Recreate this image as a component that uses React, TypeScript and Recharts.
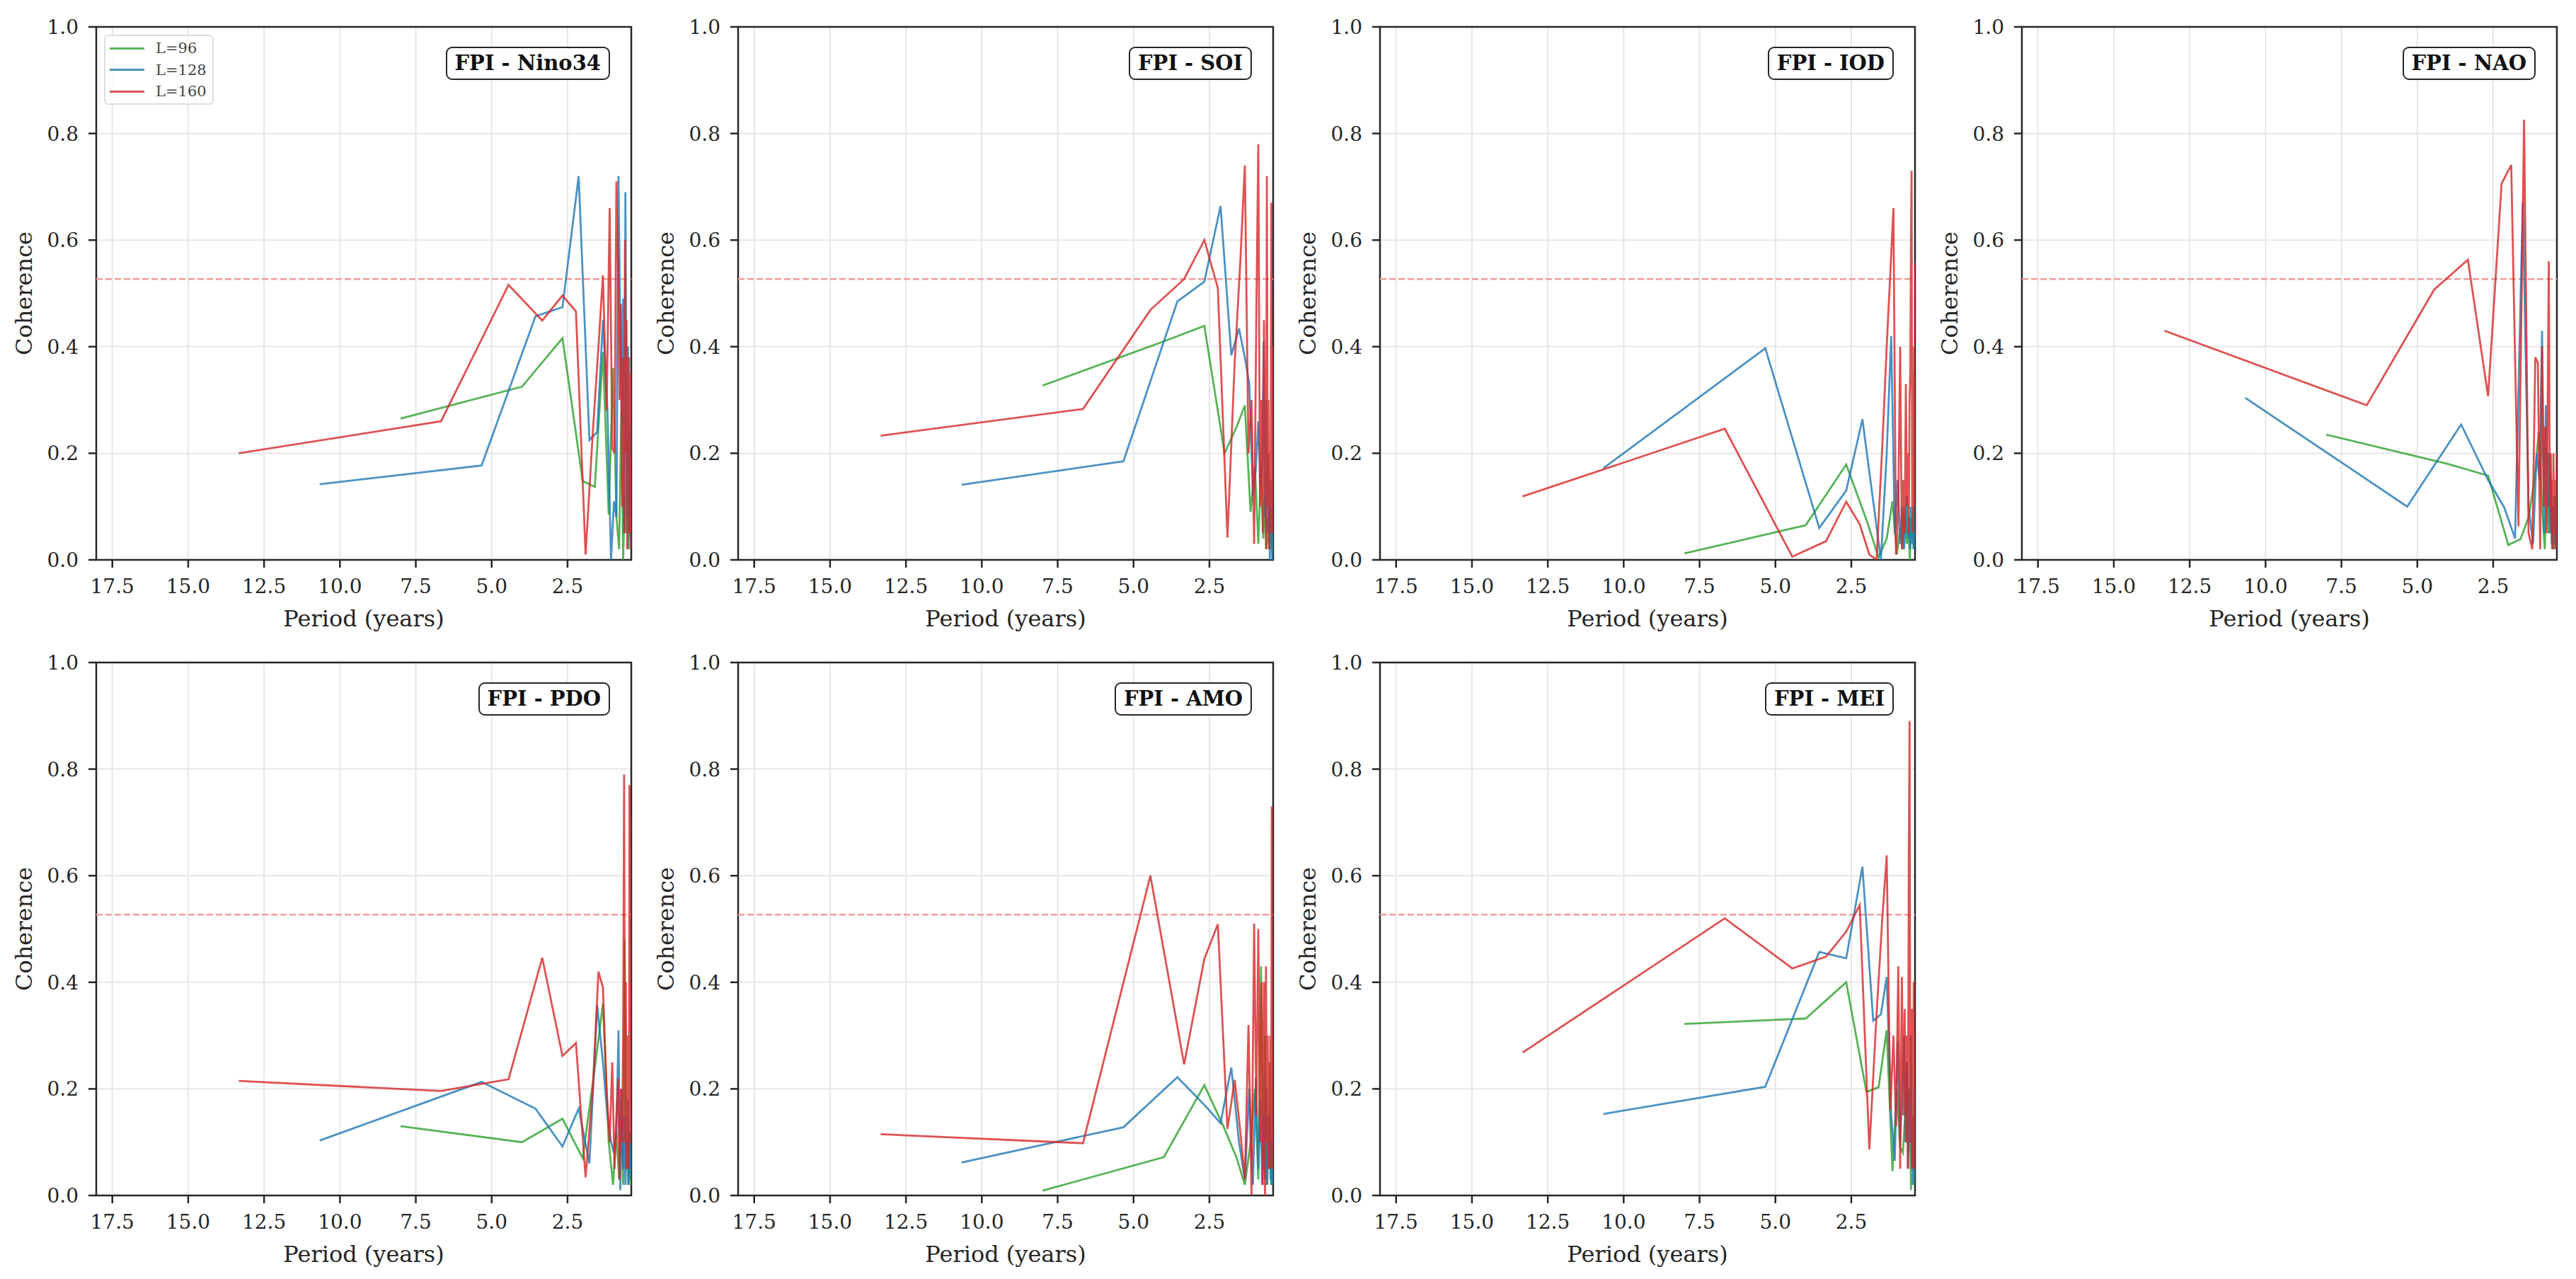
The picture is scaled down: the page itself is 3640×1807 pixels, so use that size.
import React from 'react';
import {
  LineChart,
  Line,
  XAxis,
  YAxis,
  CartesianGrid,
  ReferenceLine,
  ReferenceArea,
} from 'recharts';

// Periods (years) of the spectral estimates for each window length
const PERIODS_96 = [8.0, 4.0, 2.667, 2.0, 1.6, 1.333, 1.143, 1.0, 0.889, 0.8, 0.727, 0.667, 0.615, 0.571, 0.533, 0.5, 0.471, 0.444, 0.421, 0.4, 0.381];
const PERIODS_128 = [10.667, 5.333, 3.556, 2.667, 2.133, 1.778, 1.524, 1.333, 1.185, 1.067, 0.97, 0.889, 0.821, 0.762, 0.711, 0.667, 0.627, 0.593, 0.561, 0.533, 0.508, 0.485, 0.464, 0.444, 0.427, 0.41, 0.395, 0.381];
const PERIODS_160 = [13.333, 6.667, 4.444, 3.333, 2.667, 2.222, 1.905, 1.667, 1.481, 1.333, 1.212, 1.111, 1.026, 0.952, 0.889, 0.833, 0.784, 0.741, 0.702, 0.667, 0.635, 0.606, 0.58, 0.556, 0.533, 0.513, 0.494, 0.476, 0.46, 0.444, 0.43, 0.417, 0.404, 0.392, 0.381];

// Coherence values
const NINO34_96 = [0.265, 0.325, 0.416, 0.148, 0.137, 0.39, 0.085, 0.36, 0.08, 0.02, 0.28, 0.0, 0.12, 0.05, 0.22, 0.02, 0.15, 0.04, 0.26, 0.08, 0.03];
const NINO34_128 = [0.142, 0.177, 0.457, 0.474, 0.72, 0.225, 0.24, 0.45, 0.28, 0.0, 0.11, 0.08, 0.72, 0.43, 0.25, 0.49, 0.05, 0.69, 0.3, 0.08, 0.4, 0.1, 0.05, 0.25, 0.02, 0.12, 0.06, 0.2];
const NINO34_160 = [0.2, 0.26, 0.516, 0.449, 0.496, 0.466, 0.01, 0.24, 0.4, 0.534, 0.28, 0.66, 0.21, 0.2, 0.71, 0.55, 0.3, 0.48, 0.1, 0.38, 0.05, 0.6, 0.2, 0.45, 0.02, 0.33, 0.15, 0.38, 0.05, 0.25, 0.1, 0.35, 0.02, 0.2, 0.1];

const SOI_96 = [0.327, 0.41, 0.439, 0.2, 0.25, 0.29, 0.09, 0.175, 0.03, 0.17, 0.04, 0.12, 0.02, 0.08, 0.03, 0.1, 0.02, 0.06, 0.01, 0.04, 0.02];
const SOI_128 = [0.141, 0.185, 0.485, 0.522, 0.664, 0.384, 0.434, 0.38, 0.33, 0.12, 0.17, 0.26, 0.14, 0.18, 0.41, 0.08, 0.3, 0.05, 0.2, 0.1, 0.0, 0.15, 0.05, 0.1, 0.0, 0.05, 0.02, 0.0];
const SOI_160 = [0.233, 0.283, 0.469, 0.527, 0.6, 0.51, 0.042, 0.37, 0.56, 0.74, 0.2, 0.3, 0.03, 0.47, 0.78, 0.1, 0.3, 0.05, 0.45, 0.15, 0.02, 0.72, 0.1, 0.3, 0.02, 0.2, 0.05, 0.25, 0.67, 0.1, 0.3, 0.05, 0.4, 0.1, 0.2];

const IOD_96 = [0.012, 0.065, 0.179, 0.075, 0.005, 0.04, 0.11, 0.01, 0.06, 0.02, 0.1, 0.03, 0.06, 0.0, 0.08, 0.04, 0.1, 0.02, 0.05, 0.03, 0.06];
const IOD_128 = [0.172, 0.397, 0.06, 0.13, 0.264, 0.11, 0.0, 0.2, 0.42, 0.05, 0.15, 0.03, 0.1, 0.02, 0.06, 0.12, 0.04, 0.08, 0.02, 0.1, 0.05, 0.03, 0.07, 0.02, 0.05, 0.1, 0.03, 0.05];
const IOD_160 = [0.119, 0.246, 0.006, 0.035, 0.109, 0.067, 0.01, 0.0, 0.21, 0.4, 0.54, 0.66, 0.01, 0.1, 0.4, 0.02, 0.15, 0.05, 0.33, 0.1, 0.2, 0.05, 0.3, 0.35, 0.6, 0.73, 0.1, 0.35, 0.05, 0.2, 0.4, 0.1, 0.25, 0.56, 0.1];

const NAO_96 = [0.235, 0.18, 0.158, 0.028, 0.039, 0.08, 0.15, 0.24, 0.1, 0.02, 0.15, 0.05, 0.2, 0.03, 0.1, 0.02, 0.08, 0.04, 0.12, 0.02, 0.05];
const NAO_128 = [0.304, 0.1, 0.254, 0.15, 0.098, 0.04, 0.67, 0.1, 0.03, 0.2, 0.15, 0.43, 0.05, 0.29, 0.1, 0.2, 0.05, 0.15, 0.02, 0.1, 0.05, 0.12, 0.03, 0.08, 0.02, 0.05, 0.1, 0.03];
const NAO_160 = [0.43, 0.29, 0.507, 0.563, 0.307, 0.706, 0.741, 0.063, 0.826, 0.05, 0.02, 0.38, 0.37, 0.02, 0.4, 0.1, 0.25, 0.05, 0.3, 0.56, 0.1, 0.2, 0.05, 0.15, 0.02, 0.2, 0.1, 0.05, 0.15, 0.02, 0.1, 0.05, 0.2, 0.08, 0.1];

const PDO_96 = [0.13, 0.1, 0.144, 0.07, 0.24, 0.36, 0.1, 0.02, 0.12, 0.03, 0.15, 0.02, 0.48, 0.05, 0.1, 0.02, 0.12, 0.04, 0.08, 0.02, 0.05];
const PDO_128 = [0.103, 0.213, 0.163, 0.092, 0.163, 0.06, 0.357, 0.25, 0.15, 0.1, 0.08, 0.12, 0.31, 0.01, 0.2, 0.05, 0.15, 0.02, 0.1, 0.05, 0.18, 0.02, 0.08, 0.12, 0.03, 0.1, 0.05, 0.14];
const PDO_160 = [0.215, 0.196, 0.218, 0.446, 0.262, 0.286, 0.034, 0.2, 0.42, 0.39, 0.2, 0.1, 0.25, 0.05, 0.15, 0.22, 0.03, 0.2, 0.1, 0.3, 0.79, 0.1, 0.4, 0.05, 0.3, 0.1, 0.25, 0.05, 0.77, 0.69, 0.2, 0.4, 0.1, 0.3, 0.15];

const AMO_96 = [0.009, 0.072, 0.207, 0.125, 0.07, 0.02, 0.1, 0.2, 0.03, 0.43, 0.05, 0.3, 0.02, 0.15, 0.05, 0.25, 0.02, 0.1, 0.04, 0.08, 0.02];
const AMO_128 = [0.062, 0.128, 0.222, 0.17, 0.136, 0.24, 0.1, 0.03, 0.2, 0.02, 0.22, 0.05, 0.18, 0.02, 0.15, 0.03, 0.2, 0.02, 0.1, 0.05, 0.15, 0.03, 0.1, 0.02, 0.08, 0.05, 0.12, 0.02];
const AMO_160 = [0.115, 0.098, 0.6, 0.246, 0.444, 0.509, 0.125, 0.217, 0.12, 0.03, 0.32, 0.0, 0.51, 0.15, 0.5, 0.1, 0.4, 0.02, 0.4, 0.0, 0.43, 0.1, 0.3, 0.05, 0.25, 0.1, 0.3, 0.05, 0.2, 0.73, 0.1, 0.3, 0.05, 0.2, 0.1];

const MEI_96 = [0.322, 0.332, 0.4, 0.194, 0.203, 0.31, 0.046, 0.2, 0.09, 0.08, 0.15, 0.25, 0.08, 0.2, 0.01, 0.1, 0.05, 0.15, 0.02, 0.08, 0.03];
const MEI_128 = [0.153, 0.204, 0.457, 0.445, 0.617, 0.328, 0.34, 0.41, 0.15, 0.065, 0.29, 0.1, 0.2, 0.3, 0.1, 0.25, 0.05, 0.2, 0.1, 0.3, 0.05, 0.15, 0.02, 0.1, 0.05, 0.2, 0.03, 0.1];
const MEI_160 = [0.268, 0.52, 0.426, 0.448, 0.495, 0.545, 0.086, 0.34, 0.517, 0.638, 0.16, 0.3, 0.13, 0.43, 0.05, 0.41, 0.15, 0.35, 0.1, 0.3, 0.05, 0.6, 0.89, 0.2, 0.1, 0.35, 0.05, 0.3, 0.1, 0.4, 0.05, 0.2, 0.1, 0.3, 0.15];

const PANEL_TITLES = ['FPI - Nino34', 'FPI - SOI', 'FPI - IOD', 'FPI - NAO', 'FPI - PDO', 'FPI - AMO', 'FPI - MEI'];
const PANEL_VALUES = [
  [NINO34_96, NINO34_128, NINO34_160],
  [SOI_96, SOI_128, SOI_160],
  [IOD_96, IOD_128, IOD_160],
  [NAO_96, NAO_128, NAO_160],
  [PDO_96, PDO_128, PDO_160],
  [AMO_96, AMO_128, AMO_160],
  [MEI_96, MEI_128, MEI_160],
];

const SERIES_LABELS = ['L=96', 'L=128', 'L=160'];
const SERIES_PERIODS = [PERIODS_96, PERIODS_128, PERIODS_160];
const SERIES_COLORS = ['#2ca02c', '#1f77b4', '#d62728'];

const X_TICKS = [17.5, 15.0, 12.5, 10.0, 7.5, 5.0, 2.5];
const Y_TICKS = [0, 0.2, 0.4, 0.6, 0.8, 1.0];
const X_DOMAIN: [number, number] = [0.4, 18.03];
const SIGNIFICANCE = 0.527;

// Layout
const FONT = '"DejaVu Serif", serif';
const PLOT_W = 756;
const PLOT_H = 753;
const Y_AXIS_W = 120;
const X_AXIS_H = 110;
const M_TOP = 30;
const M_RIGHT = 20;
const CHART_W = Y_AXIS_W + PLOT_W + M_RIGHT;
const CHART_H = M_TOP + PLOT_H + X_AXIS_H;
const COL_LEFT = [136, 1043, 1950, 2857];
const ROW_TOP = [38, 936];
const INK = '#262626';

const XTitle = (props: any) => {
  const vb = props.viewBox || {};
  return (
    <text
      x={vb.x + vb.width / 2}
      y={vb.y + 83}
      textAnchor="middle"
      dominantBaseline="central"
      fontFamily={FONT}
      fontSize={32}
      fill={INK}
    >
      Period (years)
    </text>
  );
};

const YTitle = (props: any) => {
  const vb = props.viewBox || {};
  const cx = vb.x + vb.width - 102;
  const cy = vb.y + vb.height / 2;
  return (
    <text
      x={cx}
      y={cy}
      transform={`rotate(-90, ${cx}, ${cy})`}
      textAnchor="middle"
      dominantBaseline="central"
      fontFamily={FONT}
      fontSize={32}
      fill={INK}
    >
      Coherence
    </text>
  );
};

const LegendBox = () => (
  <div
    style={{
      position: 'absolute',
      left: Y_AXIS_W + 11,
      top: M_TOP + 11,
      width: 155,
      height: 99,
      boxSizing: 'border-box',
      border: '2px solid #dcdcdc',
      borderRadius: 6,
      background: 'rgba(255,255,255,0.8)',
      fontFamily: FONT,
      fontSize: 21,
      color: '#444',
    }}
  >
    {SERIES_LABELS.map((label, i) => (
      <div
        key={label}
        style={{ position: 'absolute', left: 6, top: 4 + i * 30.5, height: 26, display: 'flex', alignItems: 'center' }}
      >
        <div style={{ width: 49, height: 3, background: SERIES_COLORS[i], opacity: 0.8 }} />
        <span style={{ marginLeft: 16, lineHeight: '26px' }}>{label}</span>
      </div>
    ))}
  </div>
);

const TitleBox = ({ text }: { text: string }) => (
  <div
    style={{
      position: 'absolute',
      right: M_RIGHT + 30,
      top: M_TOP + 28,
      height: 47,
      boxSizing: 'border-box',
      padding: '0 11px',
      border: `2.5px solid ${INK}`,
      borderRadius: 9,
      background: '#fff',
      fontFamily: FONT,
      fontWeight: 'bold',
      fontSize: 29,
      lineHeight: '42px',
      color: '#111',
      whiteSpace: 'nowrap',
    }}
  >
    {text}
  </div>
);

const Panel = ({ index }: { index: number }) => {
  const row = Math.floor(index / 4);
  const col = index % 4;
  const series = PANEL_VALUES[index].map((vals, s) =>
    SERIES_PERIODS[s].map((p, k) => ({ period: p, coh: vals[k] }))
  );
  return (
    <div
      style={{
        position: 'absolute',
        left: COL_LEFT[col] - Y_AXIS_W,
        top: ROW_TOP[row] - M_TOP,
        width: CHART_W,
        height: CHART_H,
      }}
    >
      <LineChart width={CHART_W} height={CHART_H} margin={{ top: M_TOP, right: M_RIGHT, bottom: 0, left: 0 }}>
        <CartesianGrid stroke="#e6e6e6" strokeWidth={2} />
        <XAxis
          type="number"
          dataKey="period"
          domain={X_DOMAIN}
          allowDataOverflow
          reversed
          ticks={X_TICKS}
          tickFormatter={(v: number) => v.toFixed(1)}
          height={X_AXIS_H}
          axisLine={false}
          tickSize={11}
          tickMargin={16}
          tickLine={{ stroke: INK, strokeWidth: 2.5 }}
          tick={{ fontFamily: FONT, fontSize: 28, fill: INK }}
          label={<XTitle />}
        />
        <YAxis
          type="number"
          domain={[0, 1]}
          allowDataOverflow
          ticks={Y_TICKS}
          tickFormatter={(v: number) => v.toFixed(1)}
          width={Y_AXIS_W}
          axisLine={false}
          tickSize={11}
          tickMargin={14}
          tickLine={{ stroke: INK, strokeWidth: 2.5 }}
          tick={{ fontFamily: FONT, fontSize: 28, fill: INK }}
          label={<YTitle />}
        />
        <ReferenceLine y={SIGNIFICANCE} stroke="#f29b9b" strokeWidth={2.5} strokeDasharray="9 4" />
        {series.map((data, s) => (
          <Line
            key={SERIES_LABELS[s]}
            data={data}
            dataKey="coh"
            type="linear"
            stroke={SERIES_COLORS[s]}
            strokeOpacity={0.8}
            strokeWidth={2.8}
            dot={false}
            activeDot={false}
            isAnimationActive={false}
          />
        ))}
        <ReferenceArea
          x1={X_DOMAIN[0]}
          x2={X_DOMAIN[1]}
          y1={0}
          y2={1}
          fill="none"
          fillOpacity={0}
          stroke={INK}
          strokeWidth={2.5}
        />
      </LineChart>
      {index === 0 && <LegendBox />}
      <TitleBox text={PANEL_TITLES[index]} />
    </div>
  );
};

export default function App() {
  return (
    <div
      style={{
        position: 'absolute',
        left: 0,
        top: 0,
        width: 3640,
        height: 1807,
        background: '#fff',
        overflow: 'hidden',
      }}
    >
      {PANEL_TITLES.map((t, i) => (
        <Panel key={t} index={i} />
      ))}
    </div>
  );
}
